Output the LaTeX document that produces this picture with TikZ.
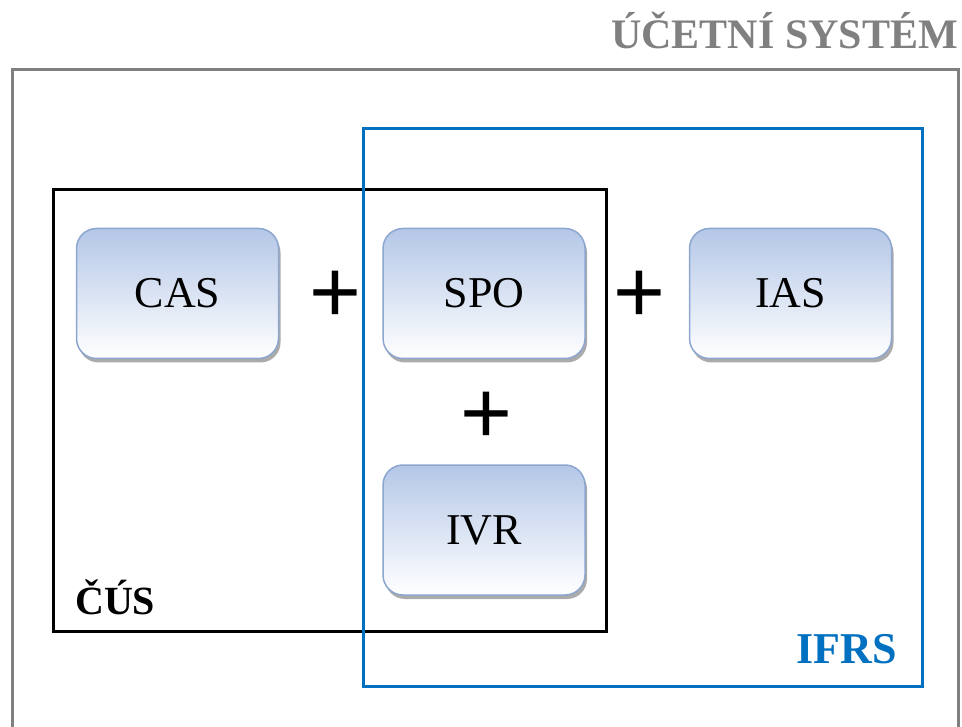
\documentclass[tikz,border=0pt]{standalone}
\usepackage{fontspec}
\setmainfont{Liberation Serif}
\newfontfamily\plusfont{Liberation Sans}
\usetikzlibrary{positioning, calc, shadows}
\definecolor{sysgray}{RGB}{128,128,128}
\definecolor{ifrsblue}{RGB}{0,112,192}
\definecolor{boxtop}{RGB}{180,199,231}
\definecolor{boxedge}{RGB}{140,166,208}

\begin{document}
\begin{tikzpicture}[x=1pt, y=-1pt,
    part/.style={draw=boxedge, line width=1.5pt, rounded corners=20pt,
      top color=boxtop, bottom color=white, minimum width=202pt,
      minimum height=130pt, inner sep=0pt,
      drop shadow={shadow xshift=2pt, shadow yshift=-4pt, fill=black!55, opacity=.6},
      font=\fontsize{44}{50}\selectfont},
    plus/.style={inner sep=0pt, font=\plusfont\fontsize{89}{90}\selectfont},
    frame/.style={line width=3pt}]
  \useasboundingbox (0,0) rectangle (962,727);
  % outer frame
  \draw[frame, sysgray] (12,727) -- (12,70) -- (958,70) -- (958,727);
  \node[anchor=base east, text=sysgray, inner sep=0pt,
    font=\bfseries\fontsize{42}{48}\selectfont] (sys) at (958,49) {ÚČETNÍ SYSTÉM};
  % CUS and IFRS frames
  \draw[frame, black] (53,190) rectangle (606,631);
  \draw[frame, ifrsblue] (363,129) rectangle (922,686);
  \node[anchor=base west, inner sep=0pt,
    font=\bfseries\fontsize{40}{46}\selectfont] (cus) at (75,614) {ČÚS};
  \node[anchor=base east, inner sep=0pt, text=ifrsblue,
    font=\bfseries\fontsize{44}{50}\selectfont] (ifrs) at (897,663) {IFRS};
  % boxes
  \node[part] (cas) at (177.5,293.5) {CAS};
  \node[part, right=103pt of cas] (spo) {SPO};
  \node[part, right=103pt of spo] (ias) {IAS};
  \node[part, below=105pt of spo] (ivr) {IVR};
  % plus signs
  \node[plus, xshift=5pt, yshift=-3pt] (p1) at ($(cas.east)!0.5!(spo.west)$) {+};
  \node[plus, xshift=2pt, yshift=-3pt] (p2) at ($(spo.east)!0.5!(ias.west)$) {+};
  \node[plus, xshift=2pt, yshift=-6pt] (p3) at ($(spo.south)!0.5!(ivr.north)$) {+};
\end{tikzpicture}
\end{document}
